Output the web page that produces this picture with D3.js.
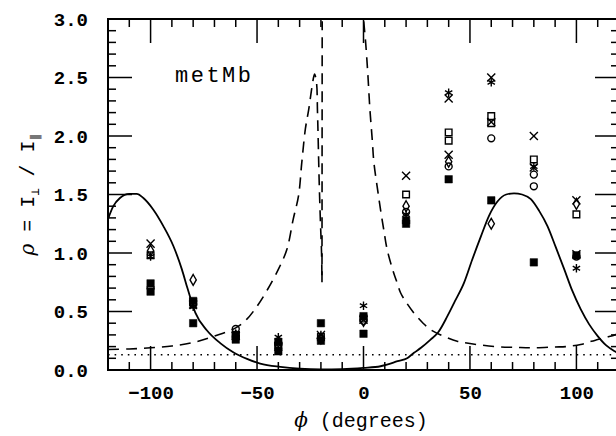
<!DOCTYPE html>
<html>
<head>
<meta charset="utf-8">
<script src="https://cdn.jsdelivr.net/npm/d3@7"></script>
<style>
html, body { margin: 0; padding: 0; background: #fff; }
#wrap { position: relative; width: 616px; height: 436px; }
#wrap svg { position: absolute; left: 0; top: 0; }
svg text { font-family: "Liberation Mono", "DejaVu Sans Mono", monospace; fill: #000; }
</style>
</head>
<body>
<div id="wrap">
<svg id="fig" width="616" height="436"></svg>
<svg id="frame" width="616" height="436"></svg>
</div>
<script>
// tick positions
var xMajor = [-100, -50, 0, 50, 100];
var yMajor = [0, 0.5, 1, 1.5, 2, 2.5, 3];

var phi = [-100, -80, -60, -40, -20, 0, 20, 40, 60, 80, 100];

var openSquare  = [0.98, 0.58, 0.30, 0.21, 0.28, 0.44, 1.50, 2.03, 2.17, 1.80, 1.33];
var openSquare2 = [null, null, null, null, null, null, null, 1.96, 2.11, null, null];
var openCircle  = [0.70, 0.56, 0.35, 0.22, 0.27, 0.42, 1.35, 1.74, 1.98, 1.57, 0.97];
var openCircle2 = [null, null, null, null, null, null, null, null, null, 1.67, null];
var openDiamond = [1.02, 0.77, 0.29, 0.20, 0.27, 0.42, 1.40, 1.78, 1.25, null, 1.42];
var crosses     = [1.08, 0.56, 0.29, 0.20, 0.30, 0.43, 1.66, 2.32, 2.50, 2.00, 1.45];
var crosses2    = [null, null, null, null, null, null, null, 1.84, 2.12, 1.73, 0.99];
var stars       = [0.97, 0.54, 0.31, 0.28, 0.30, 0.55, 1.33, 2.37, 2.46, 1.74, 0.87];
var filled      = [0.74, 0.59, 0.30, 0.24, 0.40, 0.46, 1.25, 1.63, 1.45, 0.92, 0.98];
var filled2     = [0.67, 0.40, 0.26, 0.16, 0.25, 0.31, 1.28, null, null, null, null];

// solid model curve [phi, rho]
var solidCurve = [
  [-120, 1.29], [-117.5, 1.40], [-114.4, 1.47], [-110, 1.505], [-106.5, 1.505],
  [-103.4, 1.47], [-98.7, 1.37], [-94, 1.23], [-89.3, 1.06], [-85.3, 0.86],
  [-82.7, 0.70], [-79, 0.49], [-73.6, 0.34], [-67.3, 0.23], [-61, 0.15],
  [-54.7, 0.095], [-48.5, 0.055], [-39, 0.027], [-30, 0.012], [-20, 0.006],
  [-10, 0.008], [0, 0.018], [8, 0.032], [11, 0.045], [16, 0.075], [20.5, 0.10],
  [23.7, 0.147], [27, 0.19], [31.5, 0.26], [35, 0.32], [39.4, 0.46], [43, 0.59],
  [47.2, 0.745], [51, 0.94], [55.1, 1.14], [59, 1.32], [62.9, 1.44], [67, 1.50],
  [70.7, 1.51], [74.5, 1.50], [78.6, 1.46], [82.5, 1.36], [86.4, 1.23],
  [90.3, 1.05], [94.3, 0.86], [98, 0.68], [102, 0.52], [106, 0.39], [110, 0.29],
  [114, 0.21], [118, 0.16], [120, 0.14]
];

// dashed model curve, three pieces
var dashLeft = [
  [-120, 0.175], [-110, 0.18], [-100, 0.19], [-90, 0.205], [-80, 0.235],
  [-70, 0.29], [-60, 0.36], [-55, 0.43], [-50, 0.545], [-45, 0.69], [-40, 0.86],
  [-36, 1.03], [-33, 1.29], [-30.5, 1.49], [-29, 1.77], [-27.3, 2.06],
  [-25.7, 2.23], [-24.1, 2.43], [-23, 2.53], [-22.1, 2.46], [-21.6, 2.2],
  [-20.8, 1.6], [-20.2, 1.25], [-19.7, 1.0], [-19.5, 0.75]
];
var dashSpike = [[-19.5, 0.75], [-19.4, 2.98]];
var dashRight = [
  [0.1, 2.98], [1, 2.8], [2, 2.54], [3, 2.23], [4.1, 1.97], [4.9, 1.77],
  [6.4, 1.57], [8, 1.37], [9.6, 1.19], [11.1, 1.03], [14, 0.84], [15.8, 0.745],
  [17.4, 0.66], [20, 0.58], [24, 0.48], [28, 0.40], [31.5, 0.345], [35, 0.31],
  [39.4, 0.275], [44, 0.246], [50, 0.226], [62, 0.20], [72, 0.193], [80, 0.19],
  [90, 0.197], [95, 0.20], [102, 0.218], [107, 0.245], [110, 0.26], [114, 0.28],
  [118, 0.30], [120, 0.32]
];

var baseline = 0.13;   // dotted level

var x = d3.scaleLinear().domain([-120, 120]).range([108, 619]);
var y = d3.scaleLinear().domain([0, 3]).range([370, 19]);
var xMinor = d3.range(-120, 121, 10);
var yMinor = d3.range(0, 31, 1).map(function(d) { return d / 10; });

var svg = d3.select("#fig");

var lineGen = d3.line()
  .x(function(d) { return x(d[0]); })
  .y(function(d) { return y(d[1]); });

// dotted line
svg.append("path")
  .attr("d", lineGen([[-120, baseline], [120, baseline]]))
  .attr("fill", "none")
  .attr("stroke", "#000").attr("stroke-width", 1.6)
  .attr("stroke-dasharray", "1.6,5");

svg.append("path")
  .attr("d", lineGen.curve(d3.curveMonotoneX)(solidCurve))
  .attr("fill", "none").attr("stroke", "#000").attr("stroke-width", 1.8);

[dashLeft, dashSpike, dashRight].forEach(function(seg) {
  svg.append("path")
    .attr("d", lineGen.curve(d3.curveCatmullRom)(seg))
    .attr("fill", "none").attr("stroke", "#000").attr("stroke-width", 1.6)
    .attr("stroke-dasharray", "11,7");
});

// data markers
var series = [
  {v: openSquare,  t: d3.symbolSquare,   s: 44, fill: false},
  {v: openSquare2, t: d3.symbolSquare,   s: 44, fill: false},
  {v: openCircle,  t: d3.symbolCircle,   s: 38, fill: false},
  {v: openCircle2, t: d3.symbolCircle,   s: 38, fill: false},
  {v: openDiamond, t: d3.symbolDiamond,  s: 34, fill: false},
  {v: crosses,     t: d3.symbolTimes,    s: 44, fill: false},
  {v: crosses2,    t: d3.symbolTimes,    s: 44, fill: false},
  {v: stars,       t: d3.symbolAsterisk, s: 50, fill: false},
  {v: filled,      t: d3.symbolSquare,   s: 56, fill: true},
  {v: filled2,     t: d3.symbolSquare,   s: 56, fill: true}
];

series.forEach(function(sr) {
  var pts = phi.map(function(p, i) { return [p, sr.v[i]]; })
    .filter(function(d) { return d[1] != null; });
  svg.selectAll(null)
    .data(pts)
    .enter().append("path")
    .attr("transform", function(d) { return "translate(" + x(d[0]) + "," + y(d[1]) + ")"; })
    .attr("d", d3.symbol().type(sr.t).size(sr.s))
    .attr("fill", sr.fill ? "#000" : "none")
    .attr("stroke", "#000")
    .attr("stroke-width", sr.fill ? 0.5 : 1.4);
});

// tick labels
var xl = svg.append("g").attr("transform", "translate(0," + y(0) + ")")
  .call(d3.axisBottom(x).tickValues(xMajor).tickSize(0).tickPadding(16)
    .tickFormat(function(d) { return d < 0 ? "\u2212" + Math.abs(d) : d; }));
xl.select(".domain").remove();
xl.selectAll("text").attr("font-size", 19).attr("font-weight", "bold")
  .attr("font-family", "Liberation Mono");

var yl = svg.append("g").attr("transform", "translate(" + x(-120) + ",0)")
  .call(d3.axisLeft(y).tickValues(yMajor).tickSize(0).tickPadding(20)
    .tickFormat(d3.format(".1f")));
yl.select(".domain").remove();
yl.selectAll("text").attr("font-size", 19).attr("font-weight", "bold")
  .attr("font-family", "Liberation Mono");

// in-plot label
svg.append("text")
  .attr("x", 175).attr("y", 82)
  .attr("font-size", 22)
  .attr("textLength", 76).attr("lengthAdjust", "spacing")
  .text("metMb");

// axis titles
var xt = svg.append("text")
  .attr("x", 361).attr("y", 427)
  .attr("text-anchor", "middle")
  .attr("font-size", 20);
xt.append("tspan").attr("font-style", "italic").attr("font-family", "DejaVu Serif").text("\u03d5");
xt.append("tspan").text(" (degrees)");

var yt = svg.append("text")
  .attr("transform", "translate(34,195) rotate(-90)")
  .attr("text-anchor", "middle")
  .attr("font-size", 20);
yt.append("tspan").attr("font-style", "italic").attr("font-family", "DejaVu Serif").text("\u03c1");
yt.append("tspan").text(" = I");
yt.append("tspan").attr("font-size", 12).attr("dy", 5).text("\u22a5");
yt.append("tspan").attr("dy", -5).text(" / I");
yt.append("tspan").attr("font-size", 12).attr("dy", 5).text("\u2225");

// frame and inward ticks, in their own overlay svg
var fr = d3.select("#frame");
function isMajor(list, v) {
  return list.some(function(m) { return Math.abs(m - v) < 1e-6; });
}
fr.append("rect")
  .attr("x", x(-120)).attr("y", y(3))
  .attr("width", x(120) - x(-120)).attr("height", y(0) - y(3))
  .attr("fill", "none").attr("stroke", "#000").attr("stroke-width", 2);
var tk = fr.append("g").attr("stroke", "#000").attr("stroke-width", 1.5);
[[y(0), -1], [y(3), 1]].forEach(function(s) {
  tk.selectAll(null).data(xMinor).enter().append("line")
    .attr("x1", function(d) { return x(d); })
    .attr("x2", function(d) { return x(d); })
    .attr("y1", s[0])
    .attr("y2", function(d) { return s[0] + s[1] * (isMajor(xMajor, d) ? 24 : 8); });
});
[[x(-120), 1], [x(120), -1]].forEach(function(s) {
  tk.selectAll(null).data(yMinor).enter().append("line")
    .attr("y1", function(d) { return y(d); })
    .attr("y2", function(d) { return y(d); })
    .attr("x1", s[0])
    .attr("x2", function(d) { return s[0] + s[1] * (isMajor(yMajor, d) ? 24 : 8); });
});
</script>
</body>
</html>
